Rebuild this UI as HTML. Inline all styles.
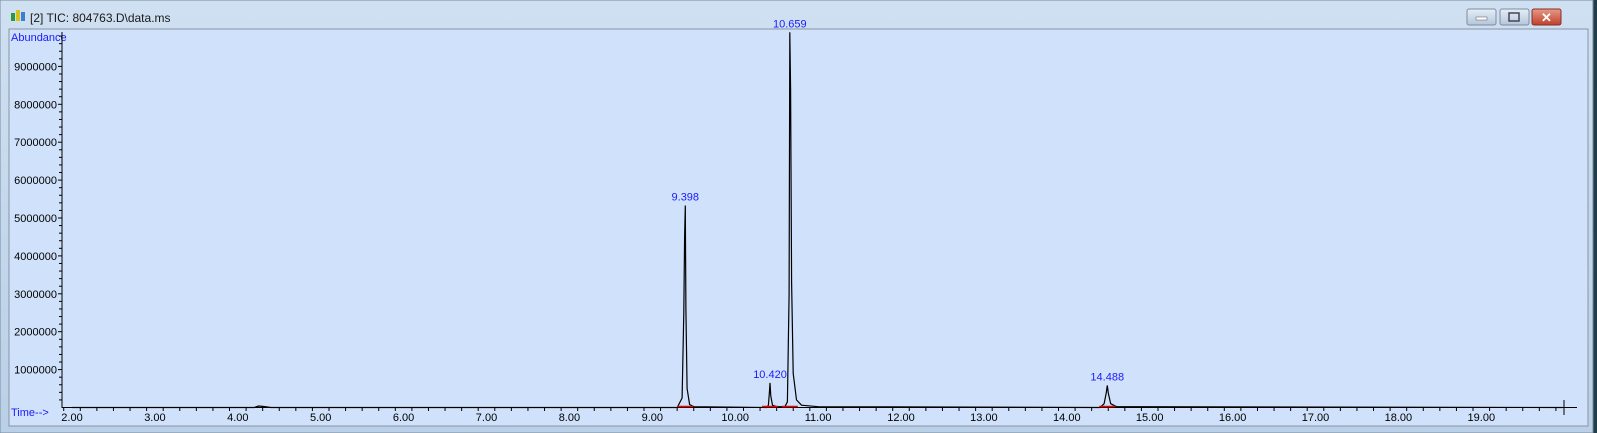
<!DOCTYPE html>
<html><head><meta charset="utf-8"><style>
html,body{margin:0;padding:0;width:1597px;height:433px;overflow:hidden;background:#1f3d4a;font-family:"Liberation Sans",sans-serif}
</style></head><body>
<svg id="s" width="1597" height="433" xmlns="http://www.w3.org/2000/svg" style="display:block">
<defs><linearGradient id="tb" x1="0" y1="0" x2="0" y2="1"><stop offset="0" stop-color="#cfe0f2"/><stop offset="1" stop-color="#b9d0e8"/></linearGradient>
<linearGradient id="btn" x1="0" y1="0" x2="0" y2="1"><stop offset="0" stop-color="#e6eef7"/><stop offset="1" stop-color="#b4c6da"/></linearGradient>
<linearGradient id="cls" x1="0" y1="0" x2="0" y2="1"><stop offset="0" stop-color="#e59a8a"/><stop offset="1" stop-color="#c0402a"/></linearGradient></defs>
<rect x="0" y="0" width="1593" height="433" fill="url(#tb)" stroke="#7a8a9a"/>
<g><rect x="11" y="13" width="4" height="8" fill="#2a9a3a"/><rect x="16" y="10" width="4" height="11" fill="#d8c020"/><rect x="21" y="12" width="4" height="9" fill="#3a80d0"/></g>
<text x="30" y="22" font-size="12" fill="#1a1a1a">[2] TIC: 804763.D\data.ms</text>
<rect x="1467" y="9" width="29" height="16" rx="2" fill="url(#btn)" stroke="#7d8ea3"/>
<rect x="1476" y="17" width="11" height="3" fill="#fff" stroke="#556"  stroke-width="0.5"/>
<rect x="1500" y="9" width="29" height="16" rx="2" fill="url(#btn)" stroke="#7d8ea3"/>
<rect x="1509" y="13" width="10" height="8" fill="none" stroke="#445" stroke-width="1.5"/>
<rect x="1532" y="9" width="29" height="16" rx="2" fill="url(#cls)" stroke="#8a3020"/>
<text x="1546.5" y="22" font-size="13" font-weight="bold" fill="#fff" text-anchor="middle">✕</text>
<rect x="9" y="29" width="1579" height="397" fill="#d0e2fb" stroke="#8a949e"/>
<text x="11" y="41" font-size="11" fill="#1a1aff">Abundance</text>
<text x="11" y="416" font-size="11" fill="#1a1aff">Time--&gt;</text>
<g id="ax"></g><g id="tr"></g><g id="lb"></g>
</svg>
<script>
const yTicks=[1000000,2000000,3000000,4000000,5000000,6000000,7000000,8000000,9000000];
const xTicks=[2,3,4,5,6,7,8,9,10,11,12,13,14,15,16,17,18,19];
const times=[2.0,4.2,4.25,4.3,4.4,9.3,9.36,9.38,9.39,9.398,9.405,9.42,9.45,9.5,10.38,10.40,10.413,10.42,10.43,10.45,10.5,10.6,10.63,10.65,10.659,10.668,10.68,10.70,10.74,10.8,11.0,14.40,14.45,14.475,14.488,14.50,14.53,14.6,19.98];
const abund=[0,0,40000,30000,0,0,250000,2500000,4500000,5330000,2600000,500000,80000,20000,0,60000,400000,650000,300000,60000,20000,20000,150000,3000000,9900000,8400000,3300000,900000,200000,60000,20000,0,100000,380000,580000,380000,100000,20000,0];
const peakLabels=["9.398","10.420","10.659","14.488"];
const peakTimes=[9.398,10.420,10.659,14.488];
const peakHeights=[5330000,650000,9900000,580000];
const NS="http://www.w3.org/2000/svg";
const X=t=>72+(t-2)*82.9, Y=v=>407.5-v/1000000*37.9;
function mk(tag,a,p){const e=document.createElementNS(NS,tag);for(const k in a)e.setAttribute(k,a[k]);p.appendChild(e);return e;}
const ax=document.getElementById('ax'),tr=document.getElementById('tr'),lb=document.getElementById('lb');
let e=mk('line',{x1:62,y1:32,x2:62,y2:408,stroke:'#000'},ax);


e=mk('line',{x1:62,y1:407.5,x2:1577,y2:407.5,stroke:'#000'},ax);


for(let v=200000;v<=9800000;v+=200000){const y=Y(v);const maj=v%1000000===0;mk('line',{x1:maj?58:59,y1:y,x2:62,y2:y,stroke:'#000'},ax);}
yTicks.forEach(v=>{const t=mk('text',{x:57,y:Y(v)+4,'font-size':11,'text-anchor':'end',fill:'#000'},ax);t.textContent=String(v);

});
for(let t=1.9;t<=19.99;t+=0.2){const x=X(t);const maj=Math.abs(t-Math.round(t))<0.01;mk('line',{x1:x,y1:407.5,x2:x,y2:maj?415:411,stroke:'#000'},ax);}
mk('line',{x1:1564,y1:400,x2:1564,y2:415,stroke:'#000'},ax);
xTicks.forEach(v=>{const t=mk('text',{x:X(v),y:421,'font-size':11,'text-anchor':'middle',fill:'#000'},ax);t.textContent=v.toFixed(2);

});
const p=mk('polyline',{points:times.map((t,i)=>X(t).toFixed(1)+','+Y(abund[i]).toFixed(1)).join(' '),fill:'none',stroke:'#000','stroke-width':1.2},tr);


peakTimes.forEach((t,i)=>{const r=mk('line',{x1:X(t)-8,y1:406.5,x2:X(t)+8,y2:406.5,stroke:'#e00','stroke-width':1.5},lb);


const tx=mk('text',{x:X(t),y:Y(peakHeights[i])-5,'font-size':11,'text-anchor':'middle',fill:'#1a1aff'},lb);tx.textContent=peakLabels[i];

});
</script>
</body></html>
